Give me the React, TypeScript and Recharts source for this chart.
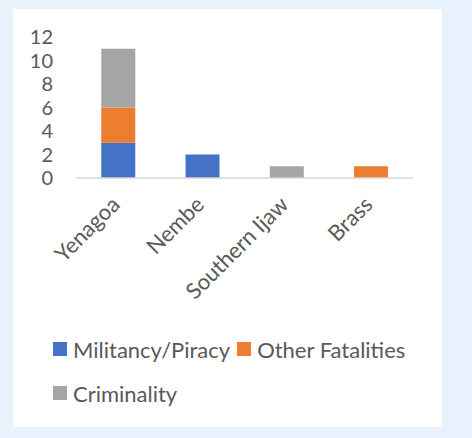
import React from 'react';
import { BarChart, Bar, XAxis, YAxis, Legend } from 'recharts';

const categories = ['Yenagoa', 'Nembe', 'Southern Ijaw', 'Brass'];
const militancy = [3, 2, 0, 0];
const otherFatalities = [3, 0, 0, 1];
const criminality = [5, 0, 1, 0];
const yTicks = [0, 2, 4, 6, 8, 10, 12];
const seriesNames = ['Militancy/Piracy', 'Other Fatalities', 'Criminality'];
const seriesColors = ['#4472c4', '#ed7d31', '#a5a5a5'];

const data = categories.map((name, i) => ({
  name,
  militancy: militancy[i],
  other: otherFatalities[i],
  criminality: criminality[i],
}));

const FONT = 'Lato, "Open Sans", sans-serif';
const TEXT = '#595959';

const XTick = (props: any) => {
  const { x, y, payload } = props;
  return (
    <g transform={`translate(${x + 3},${y})`}>
      <text textAnchor="end" transform="rotate(-45)" fill={TEXT} fontSize={22} fontFamily={FONT}>
        {payload.value}
      </text>
    </g>
  );
};

const YTick = (props: any) => {
  const { x, y, payload } = props;
  return (
    <text x={x} y={y} dy={7} textAnchor="end" fill={TEXT} fontSize={20} fontFamily={FONT}>
      {payload.value}
    </text>
  );
};

const LegendContent = (props: any) => {
  const { payload } = props;
  const ordered = seriesNames
    .map((n) => (payload || []).find((p: any) => p.value === n))
    .filter(Boolean);
  return (
    <div style={{ display: 'flex', flexWrap: 'wrap', width: 365, columnGap: 7 }}>
      {ordered.map((p: any) => (
        <div key={p.value} style={{ display: 'flex', alignItems: 'center', height: 44 }}>
          <span style={{ display: 'inline-block', width: 14, height: 14, background: p.color, marginRight: 6 }} />
          <span style={{ fontFamily: FONT, fontSize: 22, color: TEXT, whiteSpace: 'nowrap' }}>{p.value}</span>
        </div>
      ))}
    </div>
  );
};

export default function App() {
  return (
    <div style={{ position: 'absolute', left: 0, top: 0, width: 472, height: 438, background: '#e8f2fd' }}>
      <div style={{ position: 'absolute', left: 13, top: 9, width: 429, height: 418, background: '#ffffff' }} />
      <div style={{ position: 'absolute', left: 0, top: 0 }}>
        <BarChart
          width={472}
          height={438}
          data={data}
          margin={{ top: 37, right: 59, bottom: 230, left: 26 }}
          barCategoryGap="30%"
        >
          <XAxis
            dataKey="name"
            height={30}
            interval={0}
            tickLine={false}
            tickSize={6}
            tickMargin={22}
            axisLine={{ stroke: '#d9d9d9', strokeWidth: 1.5 }}
            tick={<XTick />}
          />
          <YAxis
            width={50}
            domain={[0, 12]}
            ticks={yTicks}
            interval={0}
            axisLine={false}
            tickLine={false}
            tickSize={6}
            tickMargin={17}
            tick={<YTick />}
          />
          <Legend
            layout="horizontal"
            verticalAlign="middle"
            align="center"
            wrapperStyle={{ left: 53, top: 327, width: 365 }}
            content={<LegendContent />}
          />
          <Bar dataKey="militancy" name={seriesNames[0]} stackId="a" fill={seriesColors[0]} isAnimationActive={false} />
          <Bar dataKey="other" name={seriesNames[1]} stackId="a" fill={seriesColors[1]} isAnimationActive={false} />
          <Bar dataKey="criminality" name={seriesNames[2]} stackId="a" fill={seriesColors[2]} isAnimationActive={false} />
        </BarChart>
      </div>
    </div>
  );
}
